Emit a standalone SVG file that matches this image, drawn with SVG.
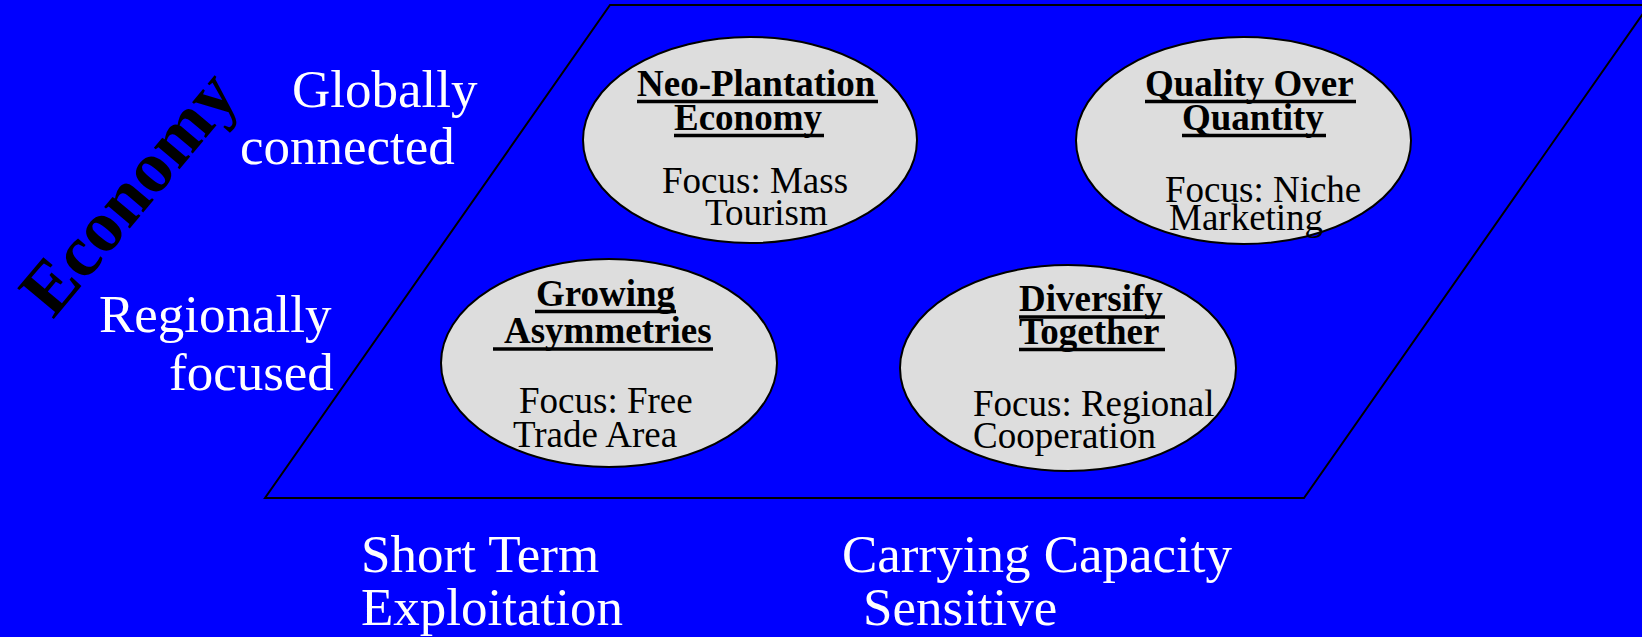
<svg xmlns="http://www.w3.org/2000/svg" width="1642" height="637" viewBox="0 0 1642 637">
<style>
.bg{fill:#0000FF}
.frame{fill:#0000FF;stroke:#000;stroke-width:2}
.oval{fill:#DDDDDD;stroke:#000;stroke-width:2}
.lbl{font-family:"Liberation Serif","Times New Roman",serif;font-size:53px;fill:#FFFFFF}
.ttl{font-family:"Liberation Serif","Times New Roman",serif;font-size:37px;font-weight:bold;fill:#000}
.foc{font-family:"Liberation Serif","Times New Roman",serif;font-size:37px;fill:#000}
.ul{stroke:#000;stroke-width:3.5}
.axis{font-family:"Liberation Serif","Times New Roman",serif;font-size:73px;font-weight:bold;fill:#000}
</style>
<rect class="bg" x="0" y="0" width="1642" height="637"/>
<g id="plane">
<polygon class="frame" points="610,5 1649,5 1304,498 265,498"/>
</g>
<g id="axis-labels">
<text class="axis" transform="translate(53,320) rotate(-50)">Economy</text>
<text class="lbl" x="292" y="107">Globally</text>
<text class="lbl" x="240" y="164">connected</text>
<text class="lbl" x="99" y="332">Regionally</text>
<text class="lbl" x="169" y="390">focused</text>
<text class="lbl" x="361" y="572">Short Term</text>
<text class="lbl" x="361" y="625">Exploitation</text>
<text class="lbl" x="842" y="572">Carrying Capacity</text>
<text class="lbl" x="863" y="625">Sensitive</text>
</g>
<g id="connectors"></g>
<g id="neo-plantation">
<ellipse class="oval" cx="750" cy="140" rx="167" ry="103"/>
<text class="ttl" x="637" y="96">Neo-Plantation</text>
<line class="ul" x1="637" y1="101.5" x2="878" y2="101.5"/>
<text class="ttl" x="674" y="130">Economy</text>
<line class="ul" x1="674" y1="135.5" x2="824" y2="135.5"/>
<text class="foc" x="662" y="193">Focus: Mass</text>
<text class="foc" x="705" y="225">Tourism</text>
</g>
<g id="quality-over-quantity">
<ellipse class="oval" cx="1243.5" cy="140.5" rx="167.5" ry="103.5"/>
<text class="ttl" x="1145" y="96">Quality Over</text>
<line class="ul" x1="1145" y1="101.5" x2="1356" y2="101.5"/>
<text class="ttl" x="1182" y="130">Quantity</text>
<line class="ul" x1="1182" y1="135.5" x2="1326" y2="135.5"/>
<text class="foc" x="1165" y="202">Focus: Niche</text>
<text class="foc" x="1169" y="230">Marketing</text>
</g>
<g id="growing-asymmetries">
<ellipse class="oval" cx="609" cy="363" rx="168" ry="104"/>
<text class="ttl" x="536" y="306">Growing</text>
<line class="ul" x1="535" y1="311.5" x2="676" y2="311.5"/>
<text class="ttl" x="504" y="343">Asymmetries</text>
<line class="ul" x1="493" y1="349" x2="713" y2="349"/>
<text class="foc" x="519" y="413">Focus: Free</text>
<text class="foc" x="513" y="447">Trade Area</text>
</g>
<g id="diversify-together">
<ellipse class="oval" cx="1068" cy="368" rx="168" ry="103"/>
<text class="ttl" x="1019" y="311">Diversify</text>
<line class="ul" x1="1019" y1="317" x2="1165" y2="317"/>
<text class="ttl" x="1019" y="344">Together</text>
<line class="ul" x1="1019" y1="349.5" x2="1165" y2="349.5"/>
<text class="foc" x="973" y="416">Focus: Regional</text>
<text class="foc" x="973" y="448">Cooperation</text>
</g>
</svg>
